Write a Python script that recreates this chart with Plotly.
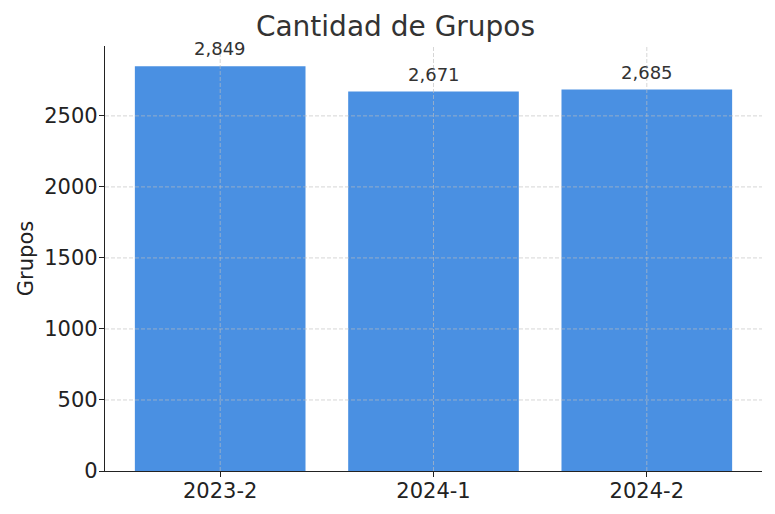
import plotly.graph_objects as go

periodos = ["2023-2", "2024-1", "2024-2"]
grupos = [2849, 2671, 2685]
yticks = [0, 500, 1000, 1500, 2000, 2500]

GRID = dict(color="rgba(190,190,190,0.8)", width=0.8, dash="4px,2px")

fig = go.Figure()
fig.add_trace(go.Bar(
    x=periodos, y=grupos, width=0.8,
    marker=dict(color="#4a90e2", line=dict(width=0)),
    hoverinfo="x+y",
))

# etiquetas encima de cada barra
for p, g in zip(periodos, grupos):
    fig.add_annotation(x=p, y=g, text=f"{g:,}", showarrow=False,
                       yanchor="bottom", yshift=5,
                       font=dict(size=18, color="#333333"))

# rejilla por encima de las barras (como en matplotlib)
for p in periodos:
    fig.add_shape(type="line", xref="x", yref="paper", x0=p, x1=p,
                  y0=0, y1=1, line=GRID, layer="above")
for t in yticks[1:]:
    fig.add_shape(type="line", xref="paper", yref="y", x0=0, x1=1,
                  y0=t, y1=t, line=GRID, layer="above")

fig.update_layout(
    width=775, height=514,
    margin=dict(l=97, r=21, t=38, b=51),
    paper_bgcolor="white", plot_bgcolor="white",
    font=dict(family="DejaVu Sans", color="#222222"),
    title=dict(text="Cantidad de Grupos", x=0.5, xanchor="center",
               y=0.964, yanchor="middle",
               font=dict(size=28, color="#333333")),
    showlegend=False,
    bargap=0.2,
)
fig.update_xaxes(
    type="category",
    range=[-0.54, 2.54], showline=True, linecolor="#222222", linewidth=1.3,
    ticks="outside", ticklen=5, tickcolor="#222222", showgrid=False,
    layer="above traces", tickfont=dict(size=21), ticklabelstandoff=-4,
)
fig.update_yaxes(
    range=[0, 2992], tickvals=yticks, showline=True, linecolor="#222222",
    linewidth=1.3, ticks="outside", ticklen=5, tickcolor="#222222",
    showgrid=False, zeroline=False, layer="above traces",
    tickfont=dict(size=21), ticklabelstandoff=-3,
    title=dict(text="Grupos", font=dict(size=21), standoff=4),
)

fig.write_html("out.html")
